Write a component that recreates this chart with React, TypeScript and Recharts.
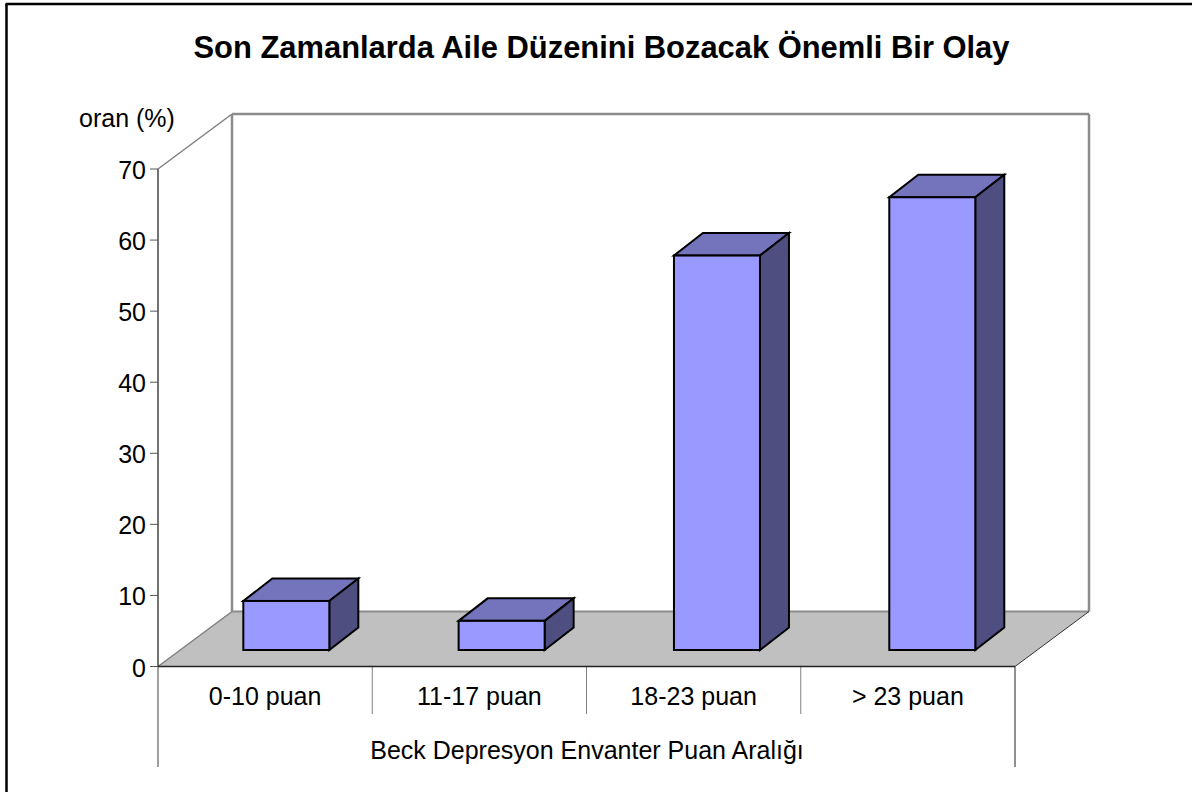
import React from "react";
import { ComposedChart, Bar, XAxis, YAxis } from "recharts";

const categories = ["0-10 puan", "11-17 puan", "18-23 puan", "> 23 puan"];
const values = [6.9, 4.1, 55.5, 63.7];
const yTicks = [0, 10, 20, 30, 40, 50, 60, 70];
const chartTitle = "Son Zamanlarda Aile Düzenini Bozacak Önemli Bir Olay";
const yTitle = "oran (%)";
const xTitle = "Beck Depresyon Envanter Puan Aralığı";

const rows = categories.map((name, i) => ({ name, value: values[i] }));

const FONT = "Liberation Sans, Arial, sans-serif";
const L = 158, R = 1015, T = 169, B = 666.5;
const DX = 74, DY = 55;

// Offset of the bars inside the depth of the floor, and depth of the bars themselves
const OX = 21, OY = 16.5;
const BDX = 29, BDY = 22.5;
const SPREAD = 1.005;

function Box(props: any) {
  const { x, y, width, height } = props;
  const x0 = L + (x - L) * SPREAD + OX, y0 = y - OY;
  const x1 = x0 + width, y1 = y0 + height;
  const stroke = { stroke: "#000", strokeWidth: 2, strokeLinejoin: "miter" as const };
  return (
    <g>
      <polygon points={`${x0},${y0} ${x1},${y0} ${x1 + BDX},${y0 - BDY} ${x0 + BDX},${y0 - BDY}`} fill="#7474BC" {...stroke} />
      <polygon points={`${x1},${y0} ${x1 + BDX},${y0 - BDY} ${x1 + BDX},${y1 - BDY} ${x1},${y1}`} fill="#4E4E80" {...stroke} />
      <rect x={x0} y={y0} width={width} height={height} fill="#9999FF" {...stroke} />
    </g>
  );
}

function XTick(props: any) {
  const { x, payload } = props;
  return (
    <text x={x} y={705} textAnchor="middle" fontFamily={FONT} fontSize={25} fill="#000">
      {payload.value}
    </text>
  );
}

function YTick(props: any) {
  const { y, payload } = props;
  return (
    <text x={146} y={y + 10} textAnchor="end" fontFamily={FONT} fontSize={25} fill="#000">
      {payload.value}
    </text>
  );
}

export default function App() {
  const catW = (R - L) / categories.length;
  return (
    <div style={{ position: "absolute", left: 0, top: 0, width: 1192, height: 792, background: "#fff" }}>
      <ComposedChart
        width={1192}
        height={792}
        data={rows}
        margin={{ top: T, right: 1192 - R, bottom: 0, left: 0 }}
      >
        {/* frame */}
        <line x1={5.5} y1={4} x2={1192} y2={4} stroke="#000" strokeWidth={2.5} />
        <line x1={6.5} y1={4} x2={6.5} y2={792} stroke="#000" strokeWidth={2.5} />
        {/* walls and floor */}
        <polygon points={`${L},${B} ${L + DX},${B - DY} ${R + DX},${B - DY} ${R},${B}`} fill="#C0C0C0" />
        <line x1={L} y1={T} x2={L + DX} y2={T - DY} stroke="#808080" strokeWidth={1.5} />
        <line x1={L} y1={B} x2={L + DX} y2={B - DY} stroke="#808080" strokeWidth={1.5} />
        <line x1={L + DX} y1={T - DY} x2={L + DX} y2={B - DY} stroke="#8c8c8c" strokeWidth={2.5} />
        <line x1={L + DX} y1={T - DY} x2={R + DX} y2={T - DY} stroke="#8c8c8c" strokeWidth={2.5} />
        <line x1={R + DX} y1={T - DY} x2={R + DX} y2={B - DY} stroke="#8c8c8c" strokeWidth={2.5} />
        <line x1={L + DX} y1={B - DY} x2={R + DX} y2={B - DY} stroke="#8c8c8c" strokeWidth={2} />
        <line x1={R} y1={B} x2={R + DX} y2={B - DY} stroke="#333" strokeWidth={1} />
        {/* category separators */}
        <line x1={L} y1={B} x2={L} y2={767} stroke="#808080" strokeWidth={1.5} />
        <line x1={R} y1={B} x2={R} y2={767} stroke="#222" strokeWidth={1} />
        {[1, 2, 3].map((i) => (
          <line key={i} x1={L + catW * i} y1={B} x2={L + catW * i} y2={714} stroke="#808080" strokeWidth={1} />
        ))}
        <XAxis
          dataKey="name"
          axisLine={{ stroke: "#222", strokeWidth: 1.5 }}
          tickLine={false}
          tick={<XTick />}
          height={792 - B}
          interval={0}
        />
        <YAxis
          domain={[0, 70]}
          ticks={yTicks}
          axisLine={{ stroke: "#444", strokeWidth: 1.5 }}
          tickLine={{ stroke: "#555", strokeWidth: 1 }}
          tickSize={8}
          tick={<YTick />}
          width={L}
        />
        <Bar dataKey="value" shape={<Box />} isAnimationActive={false} barSize={86} />
        <text x={601.5} y={58} textAnchor="middle" fontFamily={FONT} fontSize={30.9} fontWeight="bold" fill="#000">
          {chartTitle}
        </text>
        <text x={127} y={127} textAnchor="middle" fontFamily={FONT} fontSize={25} fill="#000">
          {yTitle}
        </text>
        <text x={587} y={759} textAnchor="middle" fontFamily={FONT} fontSize={25} fill="#000">
          {xTitle}
        </text>
      </ComposedChart>
    </div>
  );
}
